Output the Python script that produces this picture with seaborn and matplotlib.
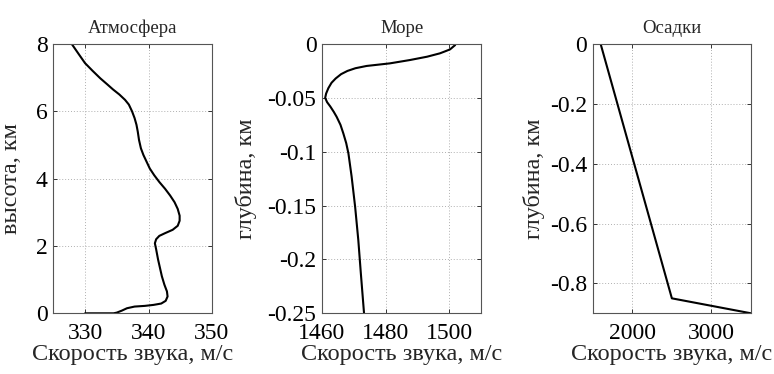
import matplotlib
matplotlib.use("Agg")
import matplotlib.pyplot as plt
import seaborn as sns
import pandas as pd

# Atmosphere profile: speed (m/s) vs height (km)
atm_speed = [330.0, 334.5, 335.0, 335.8, 336.6, 337.8, 339.4, 340.8, 342.0, 342.7,
             343.0, 342.9, 342.5, 342.1, 341.8, 341.5, 341.2, 341.0, 341.2, 341.7,
             342.6, 343.8, 344.6, 344.9, 344.9, 344.6, 344.1, 343.4, 342.6, 341.7,
             340.9, 340.2, 339.7, 339.2, 338.8, 338.5, 338.3, 338.1, 337.8, 337.4,
             336.9, 336.3, 335.4, 334.4, 333.5, 332.4, 331.2, 330.0, 329.0, 327.9]
atm_height = [0.0, 0.0, 0.02, 0.08, 0.15, 0.20, 0.22, 0.25, 0.29, 0.37,
              0.50, 0.65, 0.85, 1.10, 1.35, 1.60, 1.90, 2.08, 2.20, 2.30,
              2.38, 2.48, 2.60, 2.75, 2.90, 3.10, 3.30, 3.50, 3.70, 3.90,
              4.10, 4.30, 4.50, 4.70, 4.90, 5.15, 5.40, 5.60, 5.80, 6.00,
              6.20, 6.34, 6.50, 6.65, 6.80, 6.98, 7.20, 7.43, 7.70, 8.00]

# Sea profile: speed (m/s) vs depth (km)
sea_speed = [1501.8, 1501.0, 1500.2, 1498.5, 1497.0, 1493.0, 1487.6, 1481.3, 1474.0,
             1470.5, 1468.0, 1466.0, 1464.3, 1463.0, 1462.0, 1461.3, 1461.0, 1461.6,
             1462.6, 1463.7, 1464.6, 1465.8, 1466.7, 1467.6, 1468.3, 1469.3, 1470.4,
             1471.4, 1472.2, 1473.2]
sea_depth = [-0.001, -0.003, -0.005, -0.007, -0.0087, -0.0118, -0.0149, -0.018, -0.0204,
             -0.0225, -0.025, -0.028, -0.032, -0.036, -0.041, -0.046, -0.050, -0.054,
             -0.058, -0.063, -0.0676, -0.075, -0.083, -0.092, -0.1016, -0.123, -0.151,
             -0.182, -0.213, -0.25]

# Sediment profile
sed_speed = [1600, 2500, 3500]
sed_depth = [0.0, -0.85, -0.9]

titles = ["Атмосфера", "Море", "Осадки"]
ylabels = ["высота, км", "глубина, км", "глубина, км"]
xlabel = "Скорость звука, м/с"

atm_xticks = [330, 340, 350]
atm_yticks = [0, 2, 4, 6, 8]
sea_xticks = [1460, 1480, 1500]
sea_yticks = [0, -0.05, -0.1, -0.15, -0.2, -0.25]
sea_yticklabels = ["0", "-0.05", "-0.1", "-0.15", "-0.2", "-0.25"]
sed_xticks = [2000, 3000]
sed_yticks = [0, -0.2, -0.4, -0.6, -0.8]
sed_yticklabels = ["0", "-0.2", "-0.4", "-0.6", "-0.8"]

sns.set_style("white")
plt.rcParams['font.family'] = ['Liberation Serif', 'DejaVu Serif']

fig = plt.figure(figsize=(7.74, 3.74), dpi=100)
bottom, height = 0.1623, 0.7201
axs = [fig.add_axes([0.0689, bottom, 0.2050, height]),
       fig.add_axes([0.4160, bottom, 0.2058, height]),
       fig.add_axes([0.7658, bottom, 0.2045, height])]

datasets = [
    pd.DataFrame({"v": atm_speed, "h": atm_height}),
    pd.DataFrame({"v": sea_speed, "h": sea_depth}),
    pd.DataFrame({"v": sed_speed, "h": sed_depth}),
]
xlims = [(325, 350), (1460, 1510), (1500, 3500)]
ylims = [(0, 8), (-0.25, 0), (-0.9, 0)]
xticks = [atm_xticks, sea_xticks, sed_xticks]
yticks = [atm_yticks, sea_yticks, sed_yticks]
yticklabels = [[str(t) for t in atm_yticks], sea_yticklabels, sed_yticklabels]
ylabel_x = [-0.20, -0.41, -0.30]

for i, ax in enumerate(axs):
    sns.lineplot(data=datasets[i], x="v", y="h", sort=False, estimator=None,
                 color="black", linewidth=1.5, ax=ax)
    ax.set_xlim(*xlims[i])
    ax.set_ylim(*ylims[i])
    ax.set_xticks(xticks[i])
    ax.set_xticklabels([str(t) for t in xticks[i]])
    ax.set_yticks(yticks[i])
    ax.set_yticklabels(yticklabels[i])
    ax.grid(True, linestyle=(0, (1, 2)), color="#b0b0b0", linewidth=0.7)
    for s in ax.spines.values():
        s.set_visible(True)
        s.set_color("#555555")
        s.set_linewidth(0.8)
    ax.tick_params(direction="in", length=3, width=0.7, colors="#333333",
                   labelcolor="black", labelsize=17, top=True, right=True,
                   bottom=True, left=True, pad=4)
    ax.tick_params(axis="x", pad=7)
    ax.set_title(titles[i], fontsize=13.5, pad=8)
    ax.set_xlabel(xlabel, fontsize=17.5, labelpad=0)
    ax.set_ylabel(ylabels[i], fontsize=17.5)
    ax.yaxis.set_label_coords(ylabel_x[i], 0.5)

fig.savefig("out.png", dpi=100)
